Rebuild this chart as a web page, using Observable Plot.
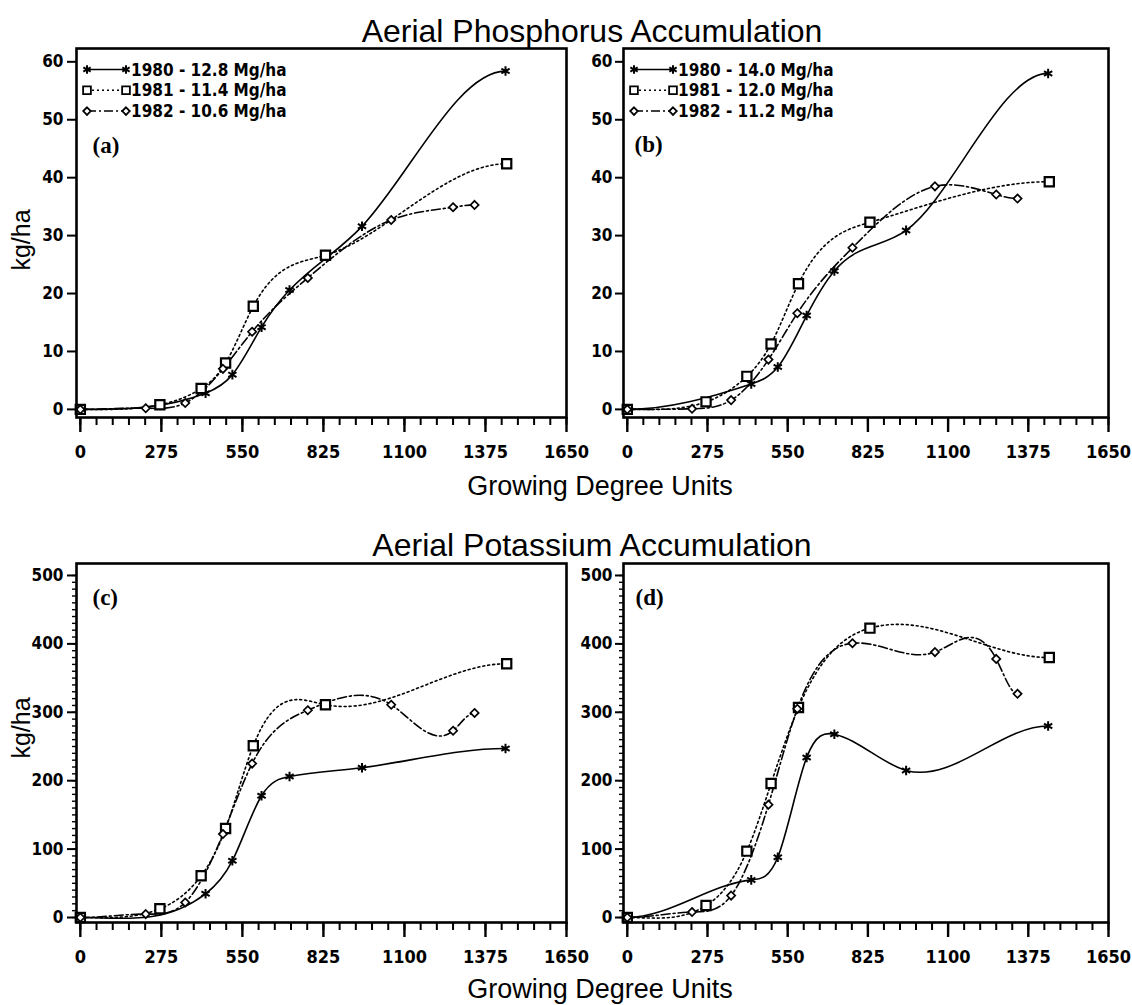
<!DOCTYPE html>
<html>
<head>
<meta charset="utf-8">
<script src="https://cdn.jsdelivr.net/npm/d3@7"></script>
<script src="https://cdn.jsdelivr.net/npm/@observablehq/plot@0.6"></script>
<style>
  body { margin: 0; background: #fff; }
  #fig { position: relative; width: 1132px; height: 1005px; overflow: hidden; background: #fff; }
  .panel { position: absolute; }
  .panel svg { overflow: visible; }
</style>
</head>
<body>
<div id="fig"></div>
<script>
// ---------------- data ----------------
const years = ["1980", "1981", "1982"];
// sampling dates (growing degree units) per year
const gdu1980 = [0, 425, 516, 615, 710, 956, 1443];
const gdu1981 = [0, 270, 410, 493, 587, 832, 1447];
const gdu1982 = [0, 222, 356, 484, 583, 772, 1055, 1265, 1338];

// (a) phosphorus, kg/ha
const pA1980 = [0, 2.8, 6.0, 14.2, 20.6, 31.6, 58.4];
const pA1981 = [0, 0.8, 3.6, 8.0, 17.8, 26.6, 42.4];
const pA1982 = [0, 0.2, 1.1, 7.0, 13.4, 22.7, 32.7, 34.9, 35.3];
// (b) phosphorus, kg/ha
const pB1980 = [0, 4.4, 7.3, 16.2, 23.9, 30.9, 58.0];
const pB1981 = [0, 1.3, 5.7, 11.3, 21.7, 32.3, 39.3];
const pB1982 = [0, 0.1, 1.6, 8.6, 16.6, 27.9, 38.5, 37.1, 36.4];
// (c) potassium, kg/ha
const kC1980 = [0, 34.6, 83, 178, 206, 219, 247];
const kC1981 = [0, 12.7, 61, 130, 251, 311, 371];
const kC1982 = [0, 5, 22, 122, 225, 303, 311, 273, 299];
// (d) potassium, kg/ha
const kD1980 = [0, 55, 88, 234, 268, 215, 280];
const kD1981 = [0, 17.5, 97, 196, 307, 423, 380];
const kD1982 = [0, 8, 32, 165, 305, 401, 388, 378, 327];

const legendA = ["1980 - 12.8 Mg/ha", "1981 - 11.4 Mg/ha", "1982 - 10.6 Mg/ha"];
const legendB = ["1980 - 14.0 Mg/ha", "1981 - 12.0 Mg/ha", "1982 - 11.2 Mg/ha"];

const xTicks = [0, 275, 550, 825, 1100, 1375, 1650];
const xMinorTicks = d3.range(0, 1651, 55);
const pTicks = [0, 10, 20, 30, 40, 50, 60];
const kTicks = [0, 100, 200, 300, 400, 500];
const kMinorTicks = d3.range(0, 501, 10);

const titleTop = "Aerial Phosphorus Accumulation";
const titleBottom = "Aerial Potassium Accumulation";
const xTitle = "Growing Degree Units";
const yTitle = "kg/ha";

// ---------------- drawing ----------------
const gdus = [gdu1980, gdu1981, gdu1982];
const dashes = [null, "2,3", "9,3,2,3"];
const plotSymbols = ["asterisk", "square", "diamond2"];
const d3Symbols = [d3.symbolAsterisk, d3.symbolSquare, d3.symbolDiamond2];
const narrow = '"Liberation Sans Narrow", "DejaVu Sans Condensed", "Arial Narrow", sans-serif';
const sans = '"Liberation Sans", Arial, Helvetica, sans-serif';
const serif = '"Liberation Serif", "Times New Roman", serif';

// cubic spline through the points (in x), with zero end slopes
function clampedSpline(context) {
  let xs, ys;
  return {
    areaStart() {}, areaEnd() {},
    lineStart() { xs = []; ys = []; },
    point(x, y) { xs.push(+x); ys.push(+y); },
    lineEnd() {
      const n = xs.length;
      if (!n) return;
      context.moveTo(xs[0], ys[0]);
      if (n === 1) return;
      const h = [];
      for (let i = 0; i < n - 1; i++) h.push(xs[i + 1] - xs[i]);
      const a = new Array(n).fill(0), b = new Array(n).fill(0), c = new Array(n).fill(0), d = new Array(n).fill(0);
      b[0] = 2 * h[0]; c[0] = h[0]; d[0] = 6 * ((ys[1] - ys[0]) / h[0]);
      for (let i = 1; i < n - 1; i++) {
        a[i] = h[i - 1]; b[i] = 2 * (h[i - 1] + h[i]); c[i] = h[i];
        d[i] = 6 * ((ys[i + 1] - ys[i]) / h[i] - (ys[i] - ys[i - 1]) / h[i - 1]);
      }
      a[n - 1] = h[n - 2]; b[n - 1] = 2 * h[n - 2]; d[n - 1] = 6 * (0 - (ys[n - 1] - ys[n - 2]) / h[n - 2]);
      // Thomas algorithm
      const cp = new Array(n), dp = new Array(n);
      cp[0] = c[0] / b[0]; dp[0] = d[0] / b[0];
      for (let i = 1; i < n; i++) {
        const den = b[i] - a[i] * cp[i - 1];
        cp[i] = c[i] / den; dp[i] = (d[i] - a[i] * dp[i - 1]) / den;
      }
      const M = new Array(n);
      M[n - 1] = dp[n - 1];
      for (let i = n - 2; i >= 0; i--) M[i] = dp[i] - cp[i] * M[i + 1];
      const m = new Array(n);
      for (let i = 0; i < n - 1; i++) m[i] = (ys[i + 1] - ys[i]) / h[i] - h[i] * (2 * M[i] + M[i + 1]) / 6;
      m[n - 1] = 0;
      for (let i = 0; i < n - 1; i++) {
        context.bezierCurveTo(xs[i] + h[i] / 3, ys[i] + m[i] * h[i] / 3,
          xs[i + 1] - h[i] / 3, ys[i + 1] - m[i + 1] * h[i] / 3, xs[i + 1], ys[i + 1]);
      }
    }
  };
}

function rows(vals) {
  const out = [];
  years.forEach((yr, i) => gdus[i].forEach((g, j) => out.push({year: yr, gdu: g, v: vals[i][j]})));
  return out;
}

const fig = document.getElementById("fig");

function panel(cfg) {
  const data = rows(cfg.vals);
  const marks = [
    Plot.axisX({ticks: xMinorTicks, tickSize: 8, tickFormat: () => "", label: null, strokeWidth: 2}),
    Plot.axisX({ticks: xTicks, tickSize: 15, tickPadding: 13, label: null, fontSize: 18, strokeWidth: 2.4, tickFormat: d => String(d)})
  ];
  if (cfg.yMinor) marks.push(Plot.axisY({ticks: cfg.yMinor, tickSize: 4, tickFormat: () => "", label: null, strokeWidth: 1.4}));
  marks.push(Plot.axisY({ticks: cfg.yTicks, tickSize: cfg.yTickSize, tickPadding: cfg.yPad, label: null, fontSize: 17, strokeWidth: 2, tickFormat: d => String(d)}));
  years.forEach((yr, i) => {
    const opts = {filter: d => d.year === yr, x: "gdu", y: "v", curve: clampedSpline, stroke: "black", strokeWidth: 1.6};
    if (dashes[i]) opts.strokeDasharray = dashes[i];
    marks.push(Plot.line(data, opts));
  });
  const dotR = [4.5, 5.2, 3.7], dotSW = [2, 2.2, 1.7];
  years.forEach((yr, i) => {
    marks.push(Plot.dot(data, {filter: d => d.year === yr, x: "gdu", y: "v", symbol: plotSymbols[i], r: dotR[i],
      stroke: "black", fill: i === 0 ? "black" : "white", strokeWidth: dotSW[i]}));
  });
  marks.push(Plot.frame({strokeWidth: 2.6}));
  marks.push(Plot.text([cfg.letter], {text: d => d, frameAnchor: "top-left", dx: cfg.letterDx, dy: cfg.letterDy,
    fontFamily: serif, fontSize: 23, fontWeight: "bold", textAnchor: "start", lineAnchor: "middle"}));

  const svg = Plot.plot({
    width: cfg.width, height: cfg.height,
    marginLeft: cfg.ml, marginRight: cfg.mr, marginTop: cfg.mt, marginBottom: cfg.mb,
    x: {domain: [-13, 1650], label: null},
    y: {domain: cfg.yDomain, label: null},
    style: {fontFamily: narrow, fontWeight: "bold", fontSize: "17px", color: "black", background: "none", overflow: "visible"},
    marks
  });

  if (cfg.legend) {
    const g = d3.select(svg).append("g").attr("fill", "black");
    cfg.legend.forEach((label, i) => {
      const y = cfg.mt + 21.5 + i * 20.8;
      const x0 = cfg.ml + 11, x1 = cfg.ml + 50;
      const ln = g.append("line").attr("x1", x0).attr("x2", x1).attr("y1", y).attr("y2", y)
        .attr("stroke", "black").attr("stroke-width", 1.5);
      if (dashes[i]) ln.attr("stroke-dasharray", dashes[i]);
      const size = [50, 60, 36][i];
      for (const x of [x0, x1]) {
        g.append("path").attr("transform", `translate(${x},${y})`)
          .attr("d", d3.symbol(d3Symbols[i], size)())
          .attr("fill", i === 0 ? "black" : "white").attr("stroke", "black").attr("stroke-width", i === 0 ? 2 : 1.8);
      }
      g.append("text").attr("x", x1 + 5).attr("y", y).attr("dy", "0.36em")
        .attr("text-anchor", "start")
        .attr("font-family", narrow).attr("font-weight", "bold").attr("font-size", 17)
        .text(label);
    });
  }

  const div = document.createElement("div");
  div.className = "panel";
  div.style.left = cfg.left + "px";
  div.style.top = cfg.top + "px";
  div.style.width = cfg.width + "px";
  div.style.height = cfg.height + "px";
  div.appendChild(svg);
  fig.appendChild(div);
}

const topGeom = {top: 0, height: 470, mt: 48, mb: 53, yDomain: [-1.4, 62.3], yTicks: pTicks};
const botGeom = {top: 500, height: 505, mt: 63, mb: 83, yDomain: [-7.3, 517.5], yTicks: kTicks, yMinor: kMinorTicks};
const leftGeom = {left: 0, width: 580, ml: 76, mr: 14, yTickSize: 9, yPad: 4};
const rightGeom = {left: 566, width: 566, ml: 57, mr: 24, yTickSize: 8, yPad: 3};

panel({...topGeom, ...leftGeom, vals: [pA1980, pA1981, pA1982], legend: legendA, letter: "(a)", letterDx: 16, letterDy: 97});
panel({...topGeom, ...rightGeom, vals: [pB1980, pB1981, pB1982], legend: legendB, letter: "(b)", letterDx: 11, letterDy: 96});
panel({...botGeom, ...leftGeom, vals: [kC1980, kC1981, kC1982], letter: "(c)", letterDx: 16, letterDy: 34});
panel({...botGeom, ...rightGeom, vals: [kD1980, kD1981, kD1982], letter: "(d)", letterDx: 12, letterDy: 34});

// titles overlay
const over = d3.select(fig).append("svg")
  .attr("width", 1132).attr("height", 1005)
  .style("position", "absolute").style("left", 0).style("top", 0).style("pointer-events", "none")
  .attr("font-family", sans).attr("fill", "black");
over.append("text").attr("x", 592).attr("y", 42).attr("text-anchor", "middle").attr("font-size", 32).text(titleTop);
over.append("text").attr("x", 600).attr("y", 495).attr("text-anchor", "middle").attr("font-size", 27).text(xTitle);
over.append("text").attr("x", 592).attr("y", 556).attr("text-anchor", "middle").attr("font-size", 32).text(titleBottom);
over.append("text").attr("x", 600).attr("y", 998).attr("text-anchor", "middle").attr("font-size", 27).text(xTitle);
for (const cy of [240, 728]) {
  over.append("text").attr("transform", `translate(30,${cy}) rotate(-90)`).attr("text-anchor", "middle")
    .attr("font-size", 25).text(yTitle);
}
</script>
</body>
</html>
